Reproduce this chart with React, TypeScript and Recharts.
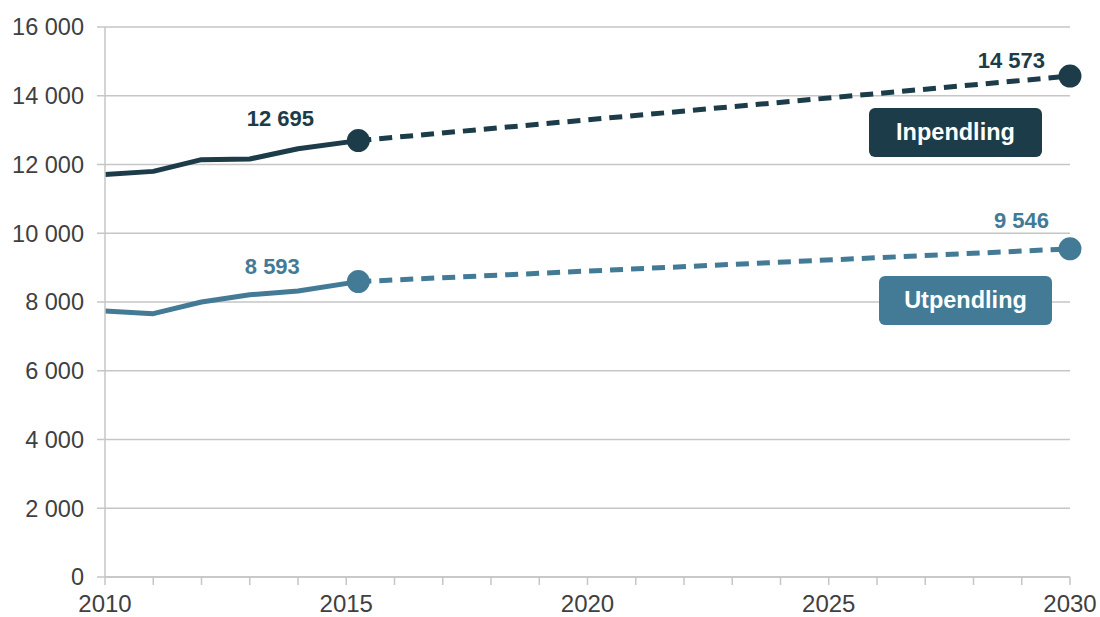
import React from 'react';
import { LineChart, Line, XAxis, YAxis, CartesianGrid } from 'recharts';

// x position of each observation (last historic point sits just after 2015)
const years = [2010, 2011, 2012, 2013, 2014, 2015.25, 2030];
const inHistory: (number | null)[] = [11710, 11800, 12140, 12160, 12460, 12695, null];
const inProjection: (number | null)[] = [null, null, null, null, null, 12695, 14573];
const utHistory: (number | null)[] = [7740, 7660, 8000, 8210, 8320, 8593, null];
const utProjection: (number | null)[] = [null, null, null, null, null, 8593, 9546];

const yTicks = [0, 2000, 4000, 6000, 8000, 10000, 12000, 14000, 16000];
const xTicks = [2010, 2011, 2012, 2013, 2014, 2015, 2016, 2017, 2018, 2019, 2020, 2021, 2022, 2023, 2024, 2025, 2026, 2027, 2028, 2029, 2030];
const xLabelYears = [2010, 2015, 2020, 2025, 2030];

const seriesNames = ['Inpendling', 'Utpendling'];

const DARK = '#1b3c48';
const LIGHT = '#437a96';
const GRID = '#c6c6c6';
const FONT = '"Liberation Sans", Arial, Helvetica, sans-serif';

const data = years.map((x, i) => ({
  x,
  inHist: inHistory[i],
  inProj: inProjection[i],
  utHist: utHistory[i],
  utProj: utProjection[i],
}));

const fmt = (v: number) => String(v).replace(/\B(?=(\d{3})+(?!\d))/g, ' ');

const makeDot = (color: string) => (props: any) => {
  const { cx, cy, value, index } = props;
  if (cx == null || cy == null || value == null) return <g key={`d${index}`} />;
  return <circle key={`d${index}`} cx={cx} cy={cy} r={11.5} fill={color} />;
};

const makeLabel = (color: string, offs: { dx: number; dy: number; anchor: string }[]) => (props: any) => {
  const { x, y, value, index } = props;
  if (x == null || y == null || value == null) return <g key={`l${index}`} />;
  const o = offs[index - 5];
  if (!o) return <g key={`l${index}`} />;
  return (
    <text
      key={`l${index}`}
      x={x + o.dx}
      y={y + o.dy}
      textAnchor={o.anchor as any}
      fill={color}
      fontFamily={FONT}
      fontWeight={700}
      fontSize={22}
    >
      {fmt(value)}
    </text>
  );
};

const XTick = (props: any) => {
  const { x, y, payload } = props;
  if (!xLabelYears.includes(payload.value)) return <g />;
  return (
    <text x={x} y={y} dy="0.71em" textAnchor="middle" fill="#404040" fontFamily={FONT} fontSize={24}>
      {payload.value}
    </text>
  );
};

const boxStyle = (bg: string, left: number, top: number, w: number, h: number): React.CSSProperties => ({
  position: 'absolute',
  left,
  top,
  width: w,
  height: h,
  background: bg,
  borderRadius: 6,
  color: '#fff',
  fontFamily: FONT,
  fontWeight: 700,
  fontSize: 23.5,
  display: 'flex',
  alignItems: 'center',
  justifyContent: 'center',
});

export default function App() {
  return (
    <div style={{ position: 'absolute', left: 0, top: 0, width: 1100, height: 617, background: '#fff' }}>
      <LineChart width={1100} height={617} data={data} margin={{ top: 27, right: 30, bottom: 0, left: 0 }}>
        <CartesianGrid horizontal vertical={false} stroke={GRID} strokeWidth={1.5} />
        <XAxis
          dataKey="x"
          type="number"
          domain={[2010, 2030]}
          ticks={xTicks}
          interval={0}
          tick={<XTick />}
          tickSize={8}
          tickMargin={10}
          height={40}
          axisLine={{ stroke: GRID, strokeWidth: 1.5 }}
          tickLine={{ stroke: GRID, strokeWidth: 1.5 }}
        />
        <YAxis
          type="number"
          domain={[0, 16000]}
          ticks={yTicks}
          interval={0}
          width={105}
          tickSize={8}
          tickMargin={13}
          tickFormatter={fmt}
          tick={{ fill: '#404040', fontFamily: FONT, fontSize: 23.5 }}
          axisLine={{ stroke: GRID, strokeWidth: 1.5 }}
          tickLine={{ stroke: GRID, strokeWidth: 1.5 }}
        />
        <Line dataKey="inHist" name={seriesNames[0]} stroke={DARK} strokeWidth={5} dot={false} isAnimationActive={false} connectNulls={false} strokeLinejoin="round" />
        <Line dataKey="utHist" name={seriesNames[1]} stroke={LIGHT} strokeWidth={5} dot={false} isAnimationActive={false} connectNulls={false} strokeLinejoin="round" />
        <Line
          dataKey="inProj"
          stroke={DARK}
          strokeWidth={5}
          strokeDasharray="13 8"
          dot={makeDot(DARK)}
          activeDot={false}
          isAnimationActive={false}
          label={makeLabel(DARK, [
            { dx: -78, dy: -15, anchor: 'middle' },
            { dx: -25, dy: -8, anchor: 'end' },
          ])}
        />
        <Line
          dataKey="utProj"
          stroke={LIGHT}
          strokeWidth={5}
          strokeDasharray="13 8"
          dot={makeDot(LIGHT)}
          activeDot={false}
          isAnimationActive={false}
          label={makeLabel(LIGHT, [
            { dx: -86, dy: -8, anchor: 'middle' },
            { dx: -21, dy: -21, anchor: 'end' },
          ])}
        />
      </LineChart>
      <div style={boxStyle(DARK, 869, 108, 173, 49)}>{seriesNames[0]}</div>
      <div style={boxStyle(LIGHT, 879, 276, 173, 49)}>{seriesNames[1]}</div>
    </div>
  );
}
